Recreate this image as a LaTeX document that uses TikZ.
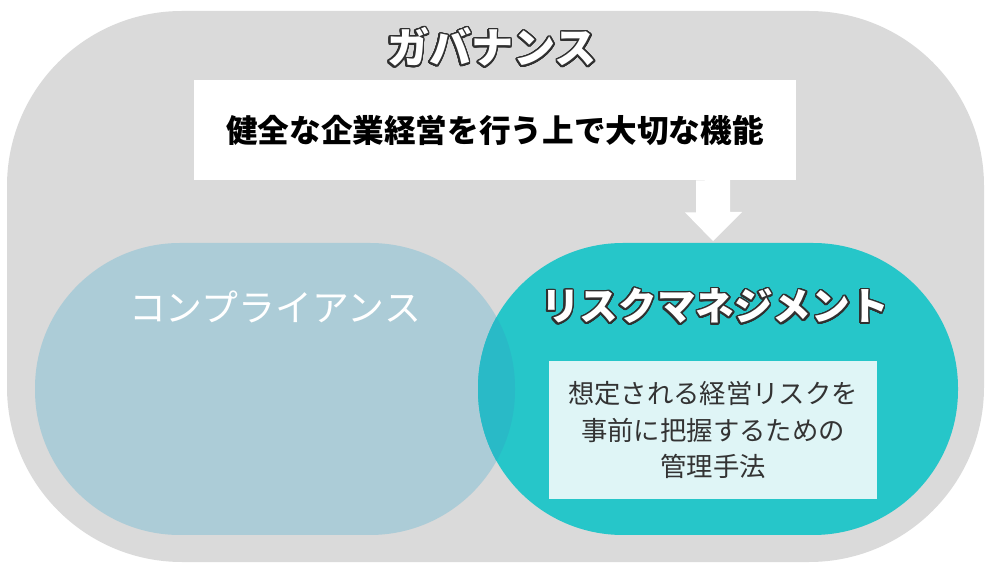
\documentclass[tikz,border=0pt]{standalone}
\usepackage{fontspec}
\newfontfamily\jp{Noto Sans CJK JP}
\usepackage[copies]{contour}
\usetikzlibrary{calc}
\definecolor{govgrey}{HTML}{DADADA}
\definecolor{compblue}{HTML}{ACCCD7}
\definecolor{riskteal}{HTML}{26C6C9}
\definecolor{overlapteal}{HTML}{29BAC7}
\definecolor{notefill}{HTML}{DFF5F6}
\definecolor{notetext}{HTML}{333333}
\definecolor{rimcol}{HTML}{303030}
\contourlength{0.9pt}
\contournumber{32}
\newcommand{\rimtext}[1]{\contour{rimcol}{\textcolor{white}{#1}}}

\begin{document}
\begin{tikzpicture}[x=0.02cm, y=-0.02cm,
		blob/.style={rounded corners=2.9cm},
		title/.style={font=\jp\bfseries\fontsize{24}{28}\selectfont},
		heading/.style={font=\jp\bfseries\fontsize{22}{26}\selectfont}]
			\useasboundingbox (0,0) rectangle (991,567);
			\fill[govgrey, rounded corners=3.5cm] (7,11) rectangle (984,562);
			\node[title] (gov) at (492,48) {\rimtext{ガバナンス}};
			
			\node[fill=white, minimum width=12.04cm, minimum height=2cm,
				font=\jp\bfseries\fontsize{18}{22}\selectfont] (box) at (495,130) {健全な企業経営を行う上で大切な機能};
			
			\coordinate (tip) at (713,241);
			\fill[white] (tip |- box.south) ++(-17,0) -- ++(0,32) -- ++(-11,0) -- (tip)
				-- ++(29,-29) -- ++(-12,0) -- ++(0,-32) -- cycle;
			
			\fill[compblue, blob] (35,243) rectangle (515,535);
			\fill[riskteal, blob] (478,243) rectangle (958,535);
			\begin{scope}
			\clip[blob] (35,243) rectangle (515,535);
			\fill[overlapteal, blob] (478,243) rectangle (958,535);
			\end{scope}
			
			\node[font=\jp\fontsize{21}{25}\selectfont, text=white] (comp) at (275,307) {コンプライアンス};
			\node[heading] (risk) at (715,307) {\rimtext{リスクマネジメント}};
			
			\node[fill=notefill, minimum width=6.56cm, minimum height=2.78cm, text=notetext,
				align=center, font=\jp\fontsize{15}{21}\selectfont] (note) at (713,430) {想定される経営リスクを\\事前に把握するための\\管理手法};
		\end{tikzpicture}
\end{document}
